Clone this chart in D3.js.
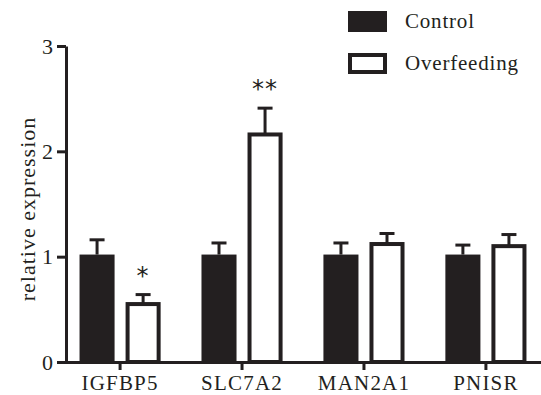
<!DOCTYPE html>
<html>
<head>
<meta charset="utf-8">
<script src="https://cdn.jsdelivr.net/npm/d3@7"></script>
<style>
  html, body { margin: 0; padding: 0; background: #fff; }
  text { font-family: "Liberation Serif", serif; fill: #231f20; }
</style>
</head>
<body>
<div id="chart"></div>
<script>
const categories = ['IGFBP5', 'SLC7A2', 'MAN2A1', 'PNISR'];
const seriesNames = ['Control', 'Overfeeding'];
const controlValues = [1.02, 1.02, 1.02, 1.02];
const controlErrors = [0.14, 0.11, 0.11, 0.09];
const overfeedingValues = [0.55, 2.16, 1.12, 1.10];
const overfeedingErrors = [0.09, 0.25, 0.10, 0.11];
const significance = ['*', '**', '', ''];
const yTicks = [0, 1, 2, 3];

const W = 541, H = 395;
const ink = '#231f20';
const serif = '"Liberation Serif", serif';
const svg = d3.select('#chart').append('svg').attr('width', W).attr('height', H);

const x = d3.scaleBand().domain(categories).range([66, 540]).paddingInner(0.335).paddingOuter(0.111);
const xs = d3.scaleBand().domain(seriesNames).range([0, x.bandwidth()]).paddingInner(0.239).paddingOuter(0);
const y = d3.scaleLinear().domain([0, 3]).range([362, 46]);

const rows = categories.map((c, i) => ({
  cat: c,
  bars: [
    { s: 'Control', v: controlValues[i], e: controlErrors[i] },
    { s: 'Overfeeding', v: overfeedingValues[i], e: overfeedingErrors[i] }
  ],
  sig: significance[i]
}));

// bars
const groups = svg.selectAll('g.grp').data(rows).join('g')
  .attr('class', 'grp')
  .attr('transform', (d) => `translate(${x(d.cat)},0)`);

groups.each(function (d) {
  const g = d3.select(this);
  d.bars.forEach((b) => {
    const bx = xs(b.s), bw = xs.bandwidth();
    const cx = bx + bw / 2;
    // error bar (upper only)
    g.append('line')
      .attr('x1', cx).attr('x2', cx)
      .attr('y1', y(b.v)).attr('y2', y(b.v + b.e))
      .attr('stroke', ink).attr('stroke-width', 3);
    g.append('line')
      .attr('x1', cx - 7.5).attr('x2', cx + 7.5)
      .attr('y1', y(b.v + b.e)).attr('y2', y(b.v + b.e))
      .attr('stroke', ink).attr('stroke-width', 3);
    if (b.s === 'Control') {
      g.append('rect')
        .attr('x', bx).attr('width', bw)
        .attr('y', y(b.v)).attr('height', y(0) - y(b.v))
        .attr('fill', ink);
    } else {
      g.append('rect')
        .attr('x', bx + 2).attr('width', bw - 4)
        .attr('y', y(b.v)).attr('height', y(0) - y(b.v))
        .attr('fill', '#fff').attr('stroke', ink).attr('stroke-width', 4);
    }
  });
  if (d.sig) {
    const b = d.bars[1];
    g.append('text')
      .attr('x', xs('Overfeeding') + xs.bandwidth() / 2)
      .attr('y', y(b.v + b.e) - 11)
      .attr('text-anchor', 'middle')
      .style('font-family', '"DejaVu Sans", sans-serif')
      .style('font-size', '24px')
      .style('letter-spacing', '1px')
      .text(d.sig);
  }
});

// y axis
const yAxis = svg.append('g').attr('transform', 'translate(66,0)')
  .call(d3.axisLeft(y).tickValues(yTicks).tickFormat(d3.format('d')).tickSize(9).tickPadding(4).tickSizeOuter(0));
yAxis.select('.domain').attr('stroke', ink).attr('stroke-width', 3);
yAxis.selectAll('line').attr('stroke', ink).attr('stroke-width', 3);
yAxis.selectAll('text').style('font-size', '22px').attr('fill', ink).style('font-family', serif);

// x axis
const xAxis = svg.append('g').attr('transform', 'translate(0,362)')
  .call(d3.axisBottom(x).tickSize(8).tickPadding(5).tickSizeOuter(0));
xAxis.select('.domain').attr('d', 'M64.5,0.5H541').attr('stroke', ink).attr('stroke-width', 3);
xAxis.selectAll('line').attr('stroke', ink).attr('stroke-width', 3);
xAxis.selectAll('text').style('font-size', '21px').style('letter-spacing', '1.2px')
  .attr('fill', ink).style('font-family', serif);

// y title
svg.append('text')
  .attr('transform', 'translate(35,209) rotate(-90)')
  .attr('text-anchor', 'middle')
  .style('font-size', '22px')
  .style('letter-spacing', '1px')
  .text('relative expression');

// legend
const legend = svg.append('g');
seriesNames.forEach((s, i) => {
  const ly = 11 + i * 42;
  if (i === 0) {
    legend.append('rect').attr('x', 348).attr('y', ly).attr('width', 39).attr('height', 21).attr('fill', ink);
  } else {
    legend.append('rect').attr('x', 350).attr('y', ly + 2).attr('width', 35).attr('height', 17)
      .attr('fill', '#fff').attr('stroke', ink).attr('stroke-width', 4);
  }
  legend.append('text').attr('x', 405).attr('y', ly + 17)
    .style('font-size', '21px').style('letter-spacing', '0.8px').text(s);
});
</script>
</body>
</html>
